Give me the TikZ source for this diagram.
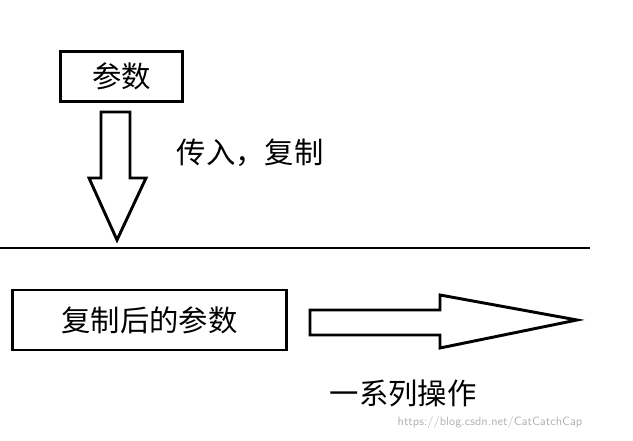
\documentclass[tikz,border=0pt]{standalone}
\usepackage{fontspec}
\newfontfamily\cjk{Noto Sans CJK SC}
\usetikzlibrary{positioning}
\tikzset{
	every path/.style = {line width=2.2pt},
	box/.style = {draw, rectangle, inner sep=0pt, font=\cjk\fontsize{22}{26}\selectfont},
	label/.style = {font=\cjk\fontsize{22}{26}\selectfont}
}

\begin{document}
\begin{tikzpicture}[x=0.75pt,y=-0.75pt]
	\useasboundingbox (0,0) rectangle (633,441);
	\node (param) [box, minimum width=92pt, minimum height=37pt] at (121.5,76.5) {参数};
	\node (copied) [box, minimum width=206pt, minimum height=45pt] at (149.5,320) {复制后的参数};
	\node (pass) [label] at (250,153) {传入，复制};
	\node (ops) [label] at (403,393) {一系列操作};
	\node (mark) [font=\sffamily\fontsize{9}{10}\selectfont, text=gray!60] at (490,423) {https://blog.csdn.net/CatCatchCap};
	% down arrow
	\draw [line join=miter] (101,112) -- (130,112) -- (130,178) -- (146,178) -- (117,240)
		-- (89,178) -- (101,178) -- cycle;
	% separator
	\draw (0,248) -- (590,248);
	% right arrow
	\draw [line join=miter] (310,310) -- (440,310) -- (440,295) -- (577,320) -- (440,348)
		-- (440,335) -- (310,335) -- cycle;
\end{tikzpicture}
\end{document}
